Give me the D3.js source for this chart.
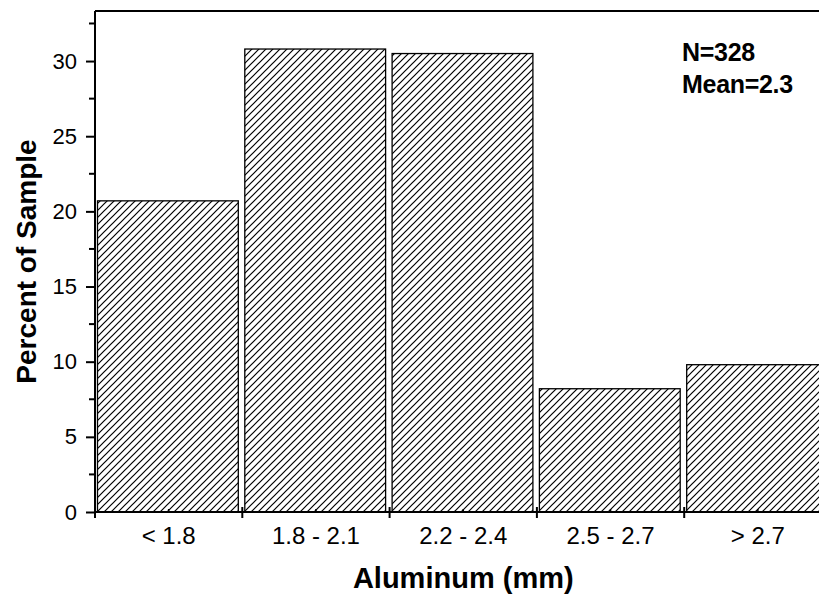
<!DOCTYPE html>
<html><head><meta charset="utf-8">
<script src="https://cdn.jsdelivr.net/npm/d3@7"></script>
<style>body{margin:0;background:#fff}svg{display:block}</style>
</head><body>
<svg id="c" width="819" height="597"></svg>
<script>
const categories = ["< 1.8", "1.8 - 2.1", "2.2 - 2.4", "2.5 - 2.7", "> 2.7"];
const percents = [20.7, 30.8, 30.5, 8.2, 9.8];
const yTicks = [0, 5, 10, 15, 20, 25, 30];
const yMinorTicks = [2.5, 7.5, 12.5, 17.5, 22.5, 27.5, 32.5];
const annotations = ["N=328", "Mean=2.3"];

const svg = d3.select("#c");
const mLeft = 95, mTop = 11, mBottom = 512, step = 147.3;
const x = d3.scaleLinear().domain([0, categories.length]).range([mLeft, mLeft + step * categories.length]);
const y = d3.scaleLinear().domain([0, 33.33]).range([mBottom, mTop]);
const font = "Liberation Sans, Arial, sans-serif";

const defs = svg.append("defs");
const pat = defs.append("pattern").attr("id", "hatch").attr("patternUnits", "userSpaceOnUse")
  .attr("width", 7).attr("height", 7);
pat.append("rect").attr("width", 7).attr("height", 7).attr("fill", "#fff");
pat.append("path").attr("d", "M-1,1 l2,-2 M0,7 l7,-7 M6,8 l2,-2").attr("stroke", "#000").attr("stroke-width", 1.2);

// bars
svg.append("g").selectAll("rect").data(percents).join("rect")
  .attr("x", (d, i) => x(i) + 2.5)
  .attr("width", x(1) - x(0) - 6.5)
  .attr("y", d => y(d))
  .attr("height", d => y(0) - y(d))
  .attr("fill", "url(#hatch)")
  .attr("stroke", "#000").attr("stroke-width", 1.3);

// top frame line
svg.append("line").attr("x1", mLeft).attr("x2", 819).attr("y1", mTop).attr("y2", mTop)
  .attr("stroke", "#000").attr("stroke-width", 2);

// y axis
const yAxis = d3.axisLeft(y).tickValues(yTicks).tickSize(9).tickPadding(9).tickFormat(d3.format("d"));
const gy = svg.append("g").attr("transform", `translate(${mLeft},0)`).call(yAxis);
gy.select(".domain").attr("d", `M0,${mTop}V${mBottom}`).attr("stroke-width", 2);
gy.selectAll(".tick line").attr("stroke-width", 2);
gy.selectAll(".tick text").attr("font-family", font).attr("font-size", 22).attr("fill", "#000");
gy.append("g").selectAll("line").data(yMinorTicks).join("line")
  .attr("x1", -6).attr("x2", 0).attr("y1", d => y(d)).attr("y2", d => y(d))
  .attr("stroke", "#000").attr("stroke-width", 2);

// x axis
const gx = svg.append("g").attr("transform", `translate(0,${mBottom})`);
gx.append("line").attr("x1", mLeft).attr("x2", 819).attr("stroke", "#000").attr("stroke-width", 2);
gx.selectAll("line.maj").data(d3.range(categories.length + 1)).join("line").attr("class", "maj")
  .attr("x1", d => x(d)).attr("x2", d => x(d)).attr("y1", -5).attr("y2", 6)
  .attr("stroke", "#000").attr("stroke-width", 2);
gx.selectAll("line.min").data(categories).join("line").attr("class", "min")
  .attr("x1", (d, i) => x(i + 0.5)).attr("x2", (d, i) => x(i + 0.5)).attr("y1", -3).attr("y2", 0)
  .attr("stroke", "#000").attr("stroke-width", 1.5);
gx.selectAll("text").data(categories).join("text")
  .attr("x", (d, i) => x(i + 0.5)).attr("y", 32)
  .attr("text-anchor", "middle")
  .attr("font-family", font).attr("font-size", 24)
  .text(d => d);

// titles
svg.append("text").attr("x", x(2.5)).attr("y", 588).attr("text-anchor", "middle")
  .attr("font-family", font).attr("font-weight", "bold").attr("font-size", 29)
  .text("Aluminum (mm)");
svg.append("text").attr("transform", `translate(36,${(mTop + mBottom) / 2}) rotate(-90)`).attr("text-anchor", "middle")
  .attr("font-family", font).attr("font-weight", "bold").attr("font-size", 28)
  .text("Percent of Sample");

// annotations
svg.append("g").selectAll("text").data(annotations).join("text")
  .attr("x", 682).attr("y", (d, i) => 61 + i * 32)
  .attr("font-family", font).attr("font-weight", "bold").attr("font-size", 25)
  .attr("letter-spacing", -0.3)
  .text(d => d);
</script>
</body></html>
